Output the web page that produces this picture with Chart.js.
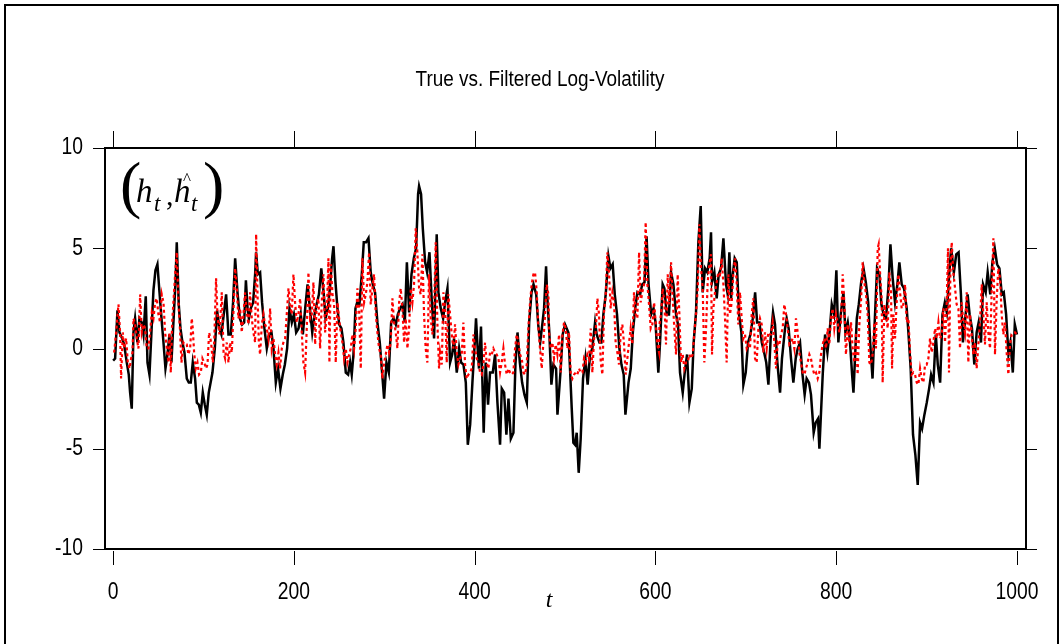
<!DOCTYPE html>
<html>
<head>
<meta charset="utf-8">
<script src="https://cdn.jsdelivr.net/npm/chart.js@4.4.0/dist/chart.umd.min.js"></script>
<style>
  html, body { margin: 0; padding: 0; background: #fff; }
  canvas { display: block; }
</style>
</head>
<body>
<canvas id="c" width="1064" height="644"></canvas>
<script>
// true log-volatility h_t
var tTrue = [0,2.2,4.8,7,10,12.2,15.1,17.3,18.8,20.6,22.5,24.3,26.9,29.1,31.7,33.6,36.1,38,40.2,42.8,44.6,46.8,49,51.3,53.5,55.7,57.9,60.1,62.3,64.5,66.7,69,70.4,72.6,74.5,76.7,78.9,81.5,83.7,85.9,88.1,90.7,92.6,94.8,97,99.2,101.4,103.6,105.8,
  109.9,112.5,115,117.6,119.8,122.4,125,127.6,130.2,132.7,135,137.6,140.2,142.7,145,146.9,148.7,150.2,152.3,154.9,157.1,158.2,160.1,162.6,164.8,167.4,170,172.6,175.2,177.4,180,182.5,185.1,187.7,190,192.5,195.1,197.7,200,202.5,205.1,207.6,209.9,212.5,215.1,217.7,220.3,222.9,225.1,227.7,230.3,232.9,
  235,237.6,240.2,242.3,243.8,246,248.2,250.1,252.6,254.8,257.4,260,262.2,264,265.9,268.1,270,272.5,275.1,277.3,279.9,282.5,285,287.3,289.8,292.4,295,297.6,299.8,302.4,305,307.6,310.2,312.8,315,317.6,320.2,322.7,325,327.5,330.1,332.7,335.2,337.4,338.5,340.7,342.6,345.2,347.4,350,352.6,355.1,
  358,359.9,362.5,365.1,367.3,369.9,372.8,375.1,377.2,380.2,382.8,385,387.6,390.2,392.4,395,397.5,400.1,401.5,403.3,404.8,407,410,412.2,414.8,417,420,422.6,425.2,428.1,430,432.6,435.1,437.4,440,442.9,445.1,447.4,450,452.5,455.1,457.7,460.3,462.9,465.1,468.1,470.3,472.5,475.1,
  476.8,479,480.1,482.7,484.9,487.1,490.1,491.6,494.9,497.4,500,503.7,505.2,507.4,509.2,511.1,512.9,515.1,517.3,519.9,522.5,525,527.7,530.2,533.2,535,538,540.2,542.4,545,548,550.2,552.7,555,557.5,560.1,562.4,564.9,566.8,570.2,572.7,575,577.6,580.1,583.1,585.4,587.9,590.2,592.4,595.3,597.9,600.1,
  603.2,605.1,608,609.9,612.5,615,617.3,619.9,622.8,625,627.2,630.2,632.4,635,637.6,640.2,642.3,644.9,647.5,650.1,652.3,654.9,657.4,660,661.5,662.6,665.2,667.8,670,672.6,675.2,678.1,680,681.8,683.7,685.1,687.7,690,692.5,695.1,697.3,699.9,702.5,705.1,707.7,710.3,712.5,715.1,717.7,720.3,722.6,
  725,727.5,730.1,732.3,734.9,737.9,740,743.4,745.2,747.4,750,752.6,755.2,757.4,760,762.5,765.1,767.3,769.9,772.1,775.1,777.3,779.9,781.4,785.1,787.7,790.3,792.5,795.1,797.7,800.2,802.4,805,808,810.2,812.8,815,817.6,819.1,822.8,825,827.6,830.2,832.8,835.4,837.6,840.2,
  842.6,845.2,847.8,850,852.5,855.1,857.7,860,862.5,865.1,867.7,869.9,872.5,875,878,879.9,882.4,885,887.6,890.2,892.8,895,897.6,900.2,902.8,905,907.6,910.2,912.4,915,917.6,920.2,922.4,925,927.2,930.2,932.8,935.4,938,940.2,942.8,945.4,947.6,950.2,952.8,955.4,957.6,960.2,962.5,965.4,967.6,970.5,972.8,975.4,978,980.6,983.2,985.4,988,990.6,992.8,995.4,997.6,1000]
var hTrue = [-0.6,-0.5,1.9,0.8,0.5,0.2,-0.7,-1.3,-2.2,-3.0,0.8,1.5,0.3,1.5,1.3,0.7,2.6,-0.7,-1.3,1.2,2.9,3.9,4.2,2.8,1.5,0.3,-1.0,-0.3,0.7,-0.7,1.3,3.3,5.3,2.2,1.0,0.3,-0.2,-1.5,-1.7,-1.7,-0.7,-1.5,-2.7,-2.8,-3.2,-2.2,-2.8,-3.3,-2.2,
  -1.2,0,1.9,1.0,0.7,1.7,2.7,0.7,0.7,2.3,4.5,2.8,1.5,1.2,1.3,3.4,2.0,1.5,2.0,2.3,3.7,4.8,3.7,3.8,2.3,1.0,0,0.7,0.8,0,-1.7,-1.0,-2.0,-1.3,-0.8,0,2.0,1.3,1.7,0.8,1.0,1.7,0.7,2.0,3.2,2.0,0.8,1.7,2.2,2.7,4.0,2.8,
  1.5,2.0,3.2,4.5,5.1,3.3,2.0,1.2,1.0,0.3,-1.2,-1.3,-0.7,-1.3,-0.3,2.0,2.3,2.2,3.7,5.3,5.3,5.5,3.8,3.2,2.8,1.3,0.3,-1.2,-2.5,-0.7,-1.2,1.3,1.5,1.2,1.7,2.0,2.2,1.3,4.3,1.8,3.7,4.5,5.0,7.7,8.1,7.7,6.0,4.3,3.8,4.8,2.3,0.5,
  5.7,2.8,2.0,1.5,2.3,3.0,-0.7,-0.3,0.5,-1.2,0,-0.7,-0.8,-1.7,-4.8,-3.8,-1.7,0.3,1.5,0,-1.0,1.1,-4.2,-0.7,-2.8,-1.2,-1.2,-0.3,-2.7,-4.8,-2.0,-2.2,-4.3,-2.5,-4.5,-4.2,-0.8,0.8,-0.7,-1.7,-2.3,-2.7,1.3,2.8,3.2,2.7,1.2,0.3,1.3,
  2.0,4.1,2.8,0.7,-1.8,-0.8,-1.0,-3.3,-1.2,0.7,1.2,0.8,-0.7,-3.0,-4.7,-4.8,-4.2,-6.2,-4.5,-1.5,-0.5,-1.8,-0.3,0,1.3,0.7,0.3,0.3,1.7,2.7,4.6,4.0,4.2,2.7,1.7,0,-0.8,-1.3,-3.3,-1.7,-1.0,0.8,2.0,2.8,2.7,3.2,3.3,5.6,3.2,1.7,2.0,1.3,
  -1.2,0.3,3.2,3.0,1.7,1.7,3.8,3.2,1.7,1.2,-1.2,-2.2,-1.2,-0.3,-2.7,-2.0,0.3,1.8,5.3,7.1,2.8,4.0,3.8,4.5,5.8,3.3,3.8,2.5,3.7,4.0,5.5,3.2,2.7,4.8,2.5,3.5,4.5,4.3,1.7,0.8,-1.8,-1.2,0.3,0.7,1.5,2.8,1.3,1.3,0.3,-0.2,-0.7,
  -1.8,0.5,1.8,1.2,-0.7,-2.2,-0.5,1.0,1.5,1.0,-0.5,-1.7,-0.5,0,0.3,-1.2,-2.3,-1.5,-1.7,-2.3,-4.2,-3.7,-3.5,-5.0,-1.3,0.7,-0.2,0.7,2.2,1.7,3.9,0.3,1.7,2.8,0.8,1.3,0.5,-1.3,-2.2,1.5,2.2,3.3,4.0,3.3,2.3,0.3,-1.5,
  1.3,4.0,3.7,2.2,1.7,1.5,3.0,5.2,3.5,2.3,3.2,4.3,3.2,3.0,2.0,0.8,-1.0,-4.3,-5.3,-6.8,-3.7,-4.0,-3.3,-2.7,-2.0,-1.3,-1.7,0.7,-0.8,-1.7,1.7,2.3,1.8,3.7,5.0,3.8,4.7,4.8,2.7,0.3,1.5,2.7,1.7,1.0,-0.8,0.8,1.3,0.3,3.2,2.8,3.8,2.7,4.3,5.0,4.2,4.0,2.7,2.8,1.7,-0.3,0.3,-1.2,1.2,0.7]

// filtered log-volatility h-hat_t
var tFilt = [1.1,3.3,5.9,7.7,8.8,10.7,12.2,14.4,16.2,18.1,19.9,21.4,22.5,24.3,26.2,28,29.9,31.7,33.6,35.4,37.2,39.1,40.9,42.8,44.6,46.5,48.3,50.1,52,53.8,55.7,57.5,59.4,61.2,62.3,63.8,65.3,66.7,68.6,70.4,72.3,74.1,75.6,77.8,79.6,81.5,83.3,85.2,87,88.1,89.6,91.4,93.3,95.1,97,98.8,100.7,102.9,104.4,106.2,
  108.4,110.3,111.8,113.9,115.4,117.6,120.2,122.2,123.9,125.7,127.6,129.4,131.3,133.1,135,136.8,138.6,140.5,142.3,144.2,146,147.9,149.7,151.5,153.4,155.2,157.1,158.2,159.7,161.2,162.6,164.5,166.3,168.1,170,171.8,173.7,175.5,177.4,179.2,181,182.9,184.7,186.6,188.4,190.3,192.1,194,195.8,197.6,199.5,201.3,203.2,205,206.9,208.7,210.5,212.4,214.2,216.1,217.9,219.8,221.6,223.5,225.3,227.1,229,230.8,232.7,234.5,236.4,238.2,
  239.3,240.8,242.7,244.5,246.3,248.2,250,251.8,253.7,255.5,257.4,259.2,261.1,262.9,264.7,266.6,268.4,270.3,272.1,274,275.8,277.7,279.5,281.3,283.2,285,286.9,288.7,290.6,292.4,294.2,296.1,297.9,299.8,301.6,303.5,305.3,307.1,309,310.8,312.7,314.5,316.4,318.2,320,321.9,323.7,325.6,327.4,329.3,331.1,332.9,334.8,336.6,338.5,340.3,342.2,344,345.8,347.7,349.5,351.4,353.2,355.1,356.9,358.8,360.6,
  361.7,363.6,365.4,367.3,369.1,370.9,372.8,374.6,376.5,378.3,380.2,382,383.8,385.7,387.5,389.4,391.2,393.1,394.9,396.8,398.6,400.4,402.3,404.1,406,407.8,409.7,411.5,413.3,415.2,417,418.9,420.7,422.6,424.4,426.3,428.1,429.9,431.8,433.6,435.5,437.3,439.2,441,442.8,444.7,446.5,448.4,450.2,452.1,453.9,455.8,457.6,459.4,461.3,463.1,465,466.8,468.7,470.5,472.3,474.2,476,477.9,479.7,481.6,
  482.3,484.1,486,487.8,489.7,491.5,493.4,495.2,497.1,498.9,500.7,502.6,504.4,506.3,508.1,510,511.8,513.6,515.5,517.3,519.2,521,522.9,524.7,526.5,528.4,530.2,532.1,533.9,535.8,537.6,539.5,541.3,543.1,545,546.8,548.7,550.5,552.4,554.2,556,557.9,559.7,561.6,563.4,565.3,567.1,568.9,570.8,572.6,574.5,576.3,578.2,580,581.9,583.7,585.5,587.4,589.2,591.1,592.9,594.8,596.6,598.5,600.3,602.1,604,
  604.4,606.2,608,609.9,611.7,613.6,615.4,617.3,619.1,620.9,622.8,624.6,626.5,628.3,630.2,632,633.8,635.7,637.5,639.4,641.2,643.1,644.9,646.8,648.6,650.4,652.3,654.1,656,657.8,659.7,661.5,662.6,664.1,665.9,667.8,669.6,671.5,673.3,675.2,677,678.8,680.7,682.5,684.4,686.2,688.1,689.9,691.7,693.6,695.4,697.3,699.1,701,702.8,704.6,706.5,708.3,710.2,712,713.9,715.7,717.6,719.4,721.2,723.1,724.9,
  726,727.9,729.7,731.6,733.4,735.3,737.1,738.9,740.8,742.6,744.5,746.3,748.2,750,751.8,753.7,755.5,757.4,759.2,761.1,762.9,764.7,766.6,768.4,770.3,772.1,774,775.8,777.7,779.5,781.3,783.2,785,786.9,788.7,790.6,792.4,794.2,796.1,797.9,799.8,801.6,803.5,805.3,807.2,809,810.8,812.7,814.5,816.4,818.2,820.1,821.9,823.7,825.6,827.4,829.3,831.1,833,834.8,836.7,838.5,840.3,842.2,844,845.9,
  847,848.5,850.3,851.4,853.3,855.1,857,858.8,860.7,861.8,863.3,865.1,866.9,868.8,870.6,872.5,874.3,876.2,878,879.9,881.7,883.5,885.4,887.2,889.1,890.9,892.8,894.6,896.5,898.3,900.1,902,903.8,905.7,907.5,909.4,911.2,913.1,914.9,916.7,918.6,920.4,922.3,923.7,924.8,926.3,927.8,929.6,931.5,933.3,935.2,937,938.8,940.7,942.5,944.4,946.2,948.1,949.9,951.7,953.6,955.4,957.3,959.1,961,962.8,964.6,966.5,968.3,970.2,972,973.9,975.7,977.6,979.4,981.3,983.1,984.9,986.8,988.6,990.5,992.3,994.2,996,997.8,999.7]
var hFilt = [-0.2,0.8,2.2,0.8,-1.5,0.8,0,0.5,-0.7,-1.0,-0.5,-0.2,1.5,1.2,0.5,0,2.7,0.8,1.2,1.0,0,0,0.8,1.8,1.5,2.3,2.5,1.7,1.3,2.7,2.3,0.8,0,-0.7,0.8,-1.2,1.3,2.3,3.7,4.8,2.3,0.8,-0.7,0.3,0.2,0.2,-0.3,0,1.5,1.0,-0.2,-1.0,-0.7,-1.3,-1.2,-0.5,-0.7,-1.0,-0.8,0.8,
  0.3,-0.7,0.3,3.5,1.7,0.7,2.8,-0.2,-0.5,0.3,-0.7,0.3,-0.2,1.8,4.0,3.0,1.5,2.0,0.8,1.7,2.8,1.8,1.2,2.8,1.5,0.8,0.3,5.7,2.8,0.3,-0.3,1.2,1.7,1.2,1.0,0.5,2.0,0,0.5,-0.3,-0.8,-0.2,-1.0,0,0.3,0.5,1.7,3.0,2.2,1.7,3.7,2.3,1.3,1.7,2.5,0.8,-0.7,-1.2,1.0,3.8,1.5,1.7,3.3,0.2,2.2,2.5,0,2.3,3.7,0.8,1.7,4.5,
  -0.7,4.2,2.7,2.2,-0.7,2.3,1.5,0.8,0.3,-0.5,0,-0.7,-0.3,0,0.7,0,1.0,3.0,2.0,-1.0,4.5,2.3,2.7,3.3,4.8,2.2,3.0,3.7,1.7,0.8,0,-0.3,-1.5,-0.7,-0.3,0.2,-0.2,0.3,2.5,1.3,0.8,0,2.3,3.0,2.0,0.3,1.5,0,1.0,3.0,2.3,3.2,6.0,4.8,3.0,2.7,4.7,1.7,0,-0.7,3.7,1.5,0.7,2.0,5.3,1.2,-1.0,
  -0.2,-0.8,2.8,2.0,-0.7,2.7,1.7,0.7,0,1.2,-0.2,-0.8,-0.5,-0.3,1.3,-0.8,-1.5,-1.3,-1.2,-1.0,0.7,0,-0.5,-0.7,-1.2,-1.3,-0.8,0.3,-0.7,-1.0,-0.2,-0.3,0,-0.2,-0.3,-0.5,-1.2,-0.7,0,-0.8,-1.3,-1.0,-1.2,-1.3,-1.2,0,0.7,0.3,-0.3,-0.5,-1.2,-1.3,-0.8,1.0,2.3,3.2,3.7,3.8,2.8,1.0,0,-1.0,0.3,1.7,3.2,2.7,
  0.8,0,0.3,-0.5,0.2,-0.3,0.7,-1.2,0.7,1.3,1.0,0,0.8,-1.3,-1.5,-1.3,-1.2,-1.3,-1.0,-1.2,-1.2,-0.5,-0.7,-0.3,-0.5,1.0,-1.2,0.5,0.8,2.5,1.7,-0.7,-1.3,1.8,2.7,4.8,3.7,2.0,2.8,2.3,0.3,-0.2,-0.8,0.8,1.2,0.2,-1.3,-0.5,0.3,1.0,0.2,2.8,1.7,1.5,4.8,2.3,2.8,3.2,6.3,3.2,2.2,1.0,1.2,2.3,1.3,0.2,-0.2,
  1.2,1.7,3.0,2.3,0.2,3.7,2.2,4.3,2.5,1.0,-0.3,3.7,1.7,-0.7,-0.3,-1.0,-0.7,-0.7,-0.3,-0.5,-0.3,0.8,1.7,3.0,6.2,4.0,3.0,-0.7,1.0,3.3,4.2,4.7,-0.3,2.0,2.8,3.3,3.8,3.7,4.5,3.2,1.5,-0.7,3.7,1.7,2.3,3.7,4.5,3.3,1.2,2.8,1.5,0.5,0.7,0,0.2,0,1.7,2.5,-0.5,-0.7,1.0,1.5,1.2,-0.2,0.8,0,0.8,
  0.7,0.7,1.3,0.3,-1.0,0.3,0.2,0.7,1.0,2.2,1.7,1.0,0.2,0.3,0.5,0,1.5,0.8,-0.2,-0.7,-1.2,-1.3,-1.0,-0.7,-0.3,-0.5,-1.0,-1.3,-1.2,-1.5,-1.2,-0.3,0.2,0.5,0,1.0,0.2,1.5,2.0,1.0,1.7,1.3,0.8,1.3,3.7,2.3,-0.3,1.2,0.3,1.3,0,-0.7,0.8,-1.3,1.2,2.3,4.3,3.3,2.7,1.7,-0.7,-0.8,-0.3,1.3,0,5.0,
  5.2,3.8,2.5,-1.7,2.2,1.7,1.0,3.8,2.8,-1.0,1.7,0.5,2.3,3.7,2.8,2.0,2.2,3.2,1.3,1.5,-0.2,-1.3,-1.2,-1.3,-1.7,-1.8,-1.0,-1.5,-1.7,-0.8,-0.8,-0.5,0.5,-0.2,0.3,1.0,0.5,1.3,0.5,0.7,2.0,0.3,2.3,5.0,-1.2,3.7,5.3,3.8,3.0,2.2,2.0,0,2.3,1.3,0.8,2.8,-0.7,1.7,0.7,-0.3,0.3,-1.0,0.2,1.3,3.2,1.7,0.2,2.3,0.8,0,2.8,5.5,-0.3,2.5,4.0,3.5,1.7,0.7,1.3,-0.2,-1.3,0.2,0.7,0.8,0.8,0.7]

var xTicks = [0, 200, 400, 600, 800, 1000]
var yTicks = [-10, -5, 0, 5, 10]

var toPoints = (ts, hs) => ts.map((t, i) => ({x: t, y: hs[i]}))

// text helper, sx squeezes the font horizontally
var txt = (ctx, s, x, y, font, align, sx, base) => {
    ctx.save()
    ctx.font = font
    ctx.textAlign = align
    ctx.textBaseline = base || 'middle'
    ctx.translate(x, y)
    ctx.scale(sx, 1)
    ctx.fillText(s, 0, 0)
    ctx.restore()
}

var decor = {
    id: 'decor',
    beforeDraw: (chart) => {
        var ctx = chart.ctx
        ctx.save()
        ctx.fillStyle = '#fff'
        ctx.fillRect(0, 0, chart.width, chart.height)
        ctx.restore()
    },
    afterDraw: (chart) => {
        var ctx = chart.ctx
        var a = chart.chartArea
        var xs = chart.scales.x
        var ys = chart.scales.y
        ctx.save()
        ctx.strokeStyle = '#000'
        ctx.fillStyle = '#000'

        // outer frame
        ctx.lineWidth = 2
        ctx.strokeRect(5, 5, 1053, 660)

        // plot box
        ctx.lineWidth = 2
        ctx.strokeRect(a.left, a.top, a.right - a.left, a.bottom - a.top)

        // ticks
        ctx.lineWidth = 1
        ctx.beginPath()
        xTicks.forEach(v => {
            var px = Math.round(xs.getPixelForValue(v)) + 0.5
            ctx.moveTo(px, a.bottom + 2); ctx.lineTo(px, a.bottom + 16)
            ctx.moveTo(px, a.top); ctx.lineTo(px, a.top - 17)
        })
        yTicks.forEach(v => {
            var py = Math.round(ys.getPixelForValue(v)) + 0.5
            ctx.moveTo(a.left, py); ctx.lineTo(a.left - 12, py)
            ctx.moveTo(a.right, py); ctx.lineTo(a.right + 11, py)
        })
        ctx.stroke()

        // tick labels
        var tf = '23px "Liberation Sans Narrow", "Liberation Sans", Arial'
        xTicks.forEach(v => {
            txt(ctx, String(v), xs.getPixelForValue(v), 593, tf, 'center', 0.84)
        })
        yTicks.forEach(v => {
            txt(ctx, String(v), 83, ys.getPixelForValue(v), tf, 'right', 0.84)
        })

        // axis title t
        txt(ctx, 't', 549, 601, 'italic 24px "Liberation Serif", "DejaVu Serif", serif', 'center', 1)

        // main title
        var title = 'True vs. Filtered Log-Volatility'
        ctx.font = '22px "Liberation Sans", Arial'
        var tw = ctx.measureText(title).width
        txt(ctx, title, 540, 80, '22px "Liberation Sans", Arial', 'center', 249 / tw)

        // corner label (h_t , h^_t)
        var serif = '"Liberation Serif", "DejaVu Serif", serif'
        txt(ctx, '(', 120, 206, '64px ' + serif, 'left', 1, 'alphabetic')
        txt(ctx, 'h', 136, 202, 'italic 33px ' + serif, 'left', 1, 'alphabetic')
        txt(ctx, 't', 154, 211, 'italic 23px ' + serif, 'left', 1, 'alphabetic')
        txt(ctx, ',', 166, 205, '30px ' + serif, 'left', 1, 'alphabetic')
        txt(ctx, 'h', 174, 202, 'italic 33px ' + serif, 'left', 1, 'alphabetic')
        txt(ctx, '^', 187, 180, '17px ' + serif, 'center', 1)
        txt(ctx, 't', 191, 211, 'italic 23px ' + serif, 'left', 1, 'alphabetic')
        txt(ctx, ')', 203, 206, '64px ' + serif, 'left', 1, 'alphabetic')
        ctx.restore()
    }
}

var chart = new Chart(document.getElementById('c'), {
    type: 'line',
    data: {
        datasets: [{
            label: 'filtered',
            data: toPoints(tFilt, hFilt),
            borderColor: '#ff0000',
            borderWidth: 2.2,
            borderDash: [3, 3],
            pointRadius: 0,
            tension: 0,
            order: 0
        }, {
            label: 'true',
            data: toPoints(tTrue, hTrue),
            borderColor: '#000000',
            borderWidth: 2.5,
            pointRadius: 0,
            tension: 0,
            order: 1
        }]
    },
    options: {
        responsive: false,
        devicePixelRatio: 1,
        animation: false,
        layout: {
            padding: {left: 105, top: 148, right: 38, bottom: 95}
        },
        scales: {
            x: {type: 'linear', min: -9, max: 1010, display: false},
            y: {type: 'linear', min: -10, max: 10, display: false}
        },
        plugins: {
            legend: {display: false},
            tooltip: {enabled: false},
            title: {display: false}
        }
    },
    plugins: [decor]
})
</script>
</body>
</html>
